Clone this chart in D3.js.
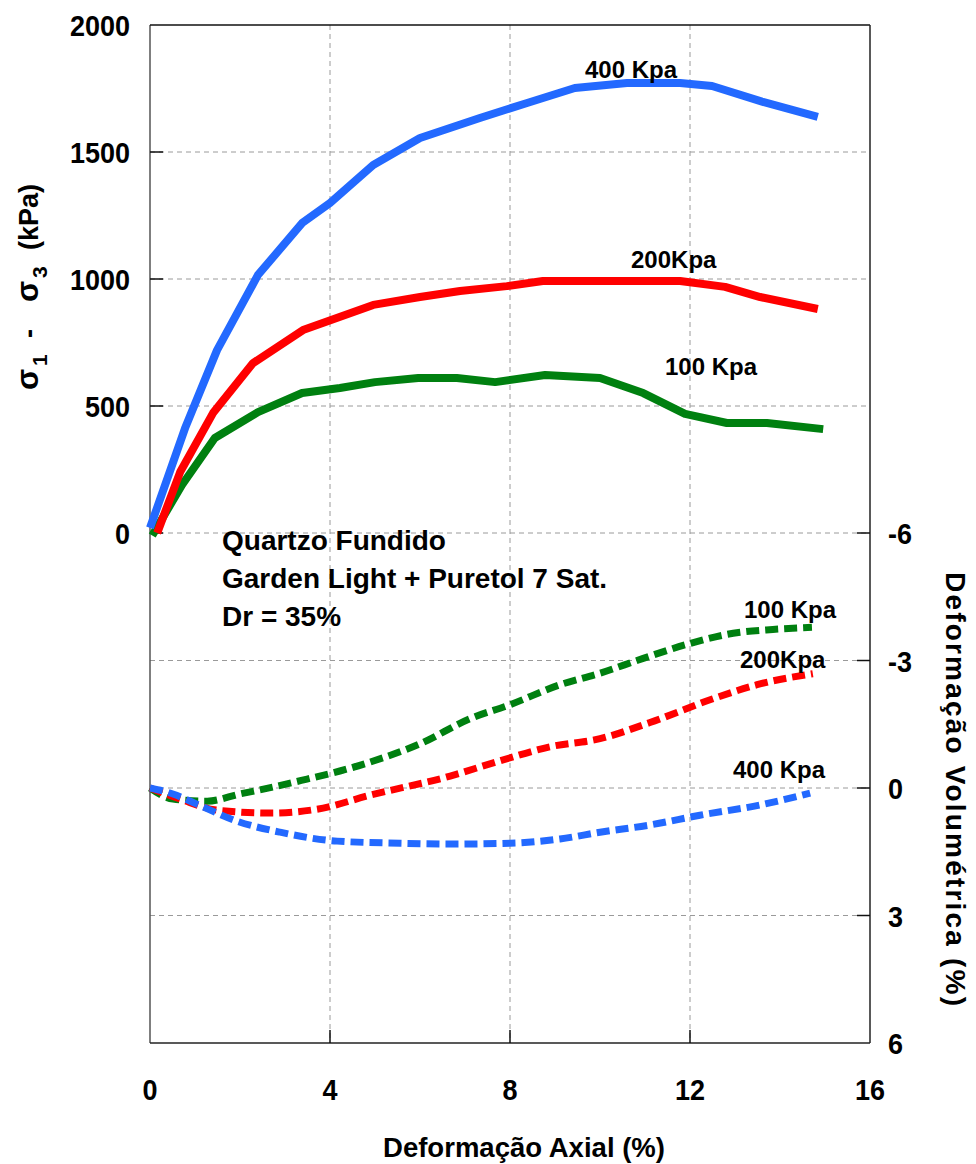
<!DOCTYPE html>
<html>
<head>
<meta charset="utf-8">
<script src="https://cdn.jsdelivr.net/npm/d3@7"></script>
<style>
  html, body { margin: 0; padding: 0; background: #fff; }
  svg { display: block; font-family: "Liberation Sans", Arial, sans-serif; font-weight: bold; }
</style>
</head>
<body>
<svg id="chart" width="976" height="1164"></svg>
<script>
// Axial strain (%) vs deviator stress (kPa)
const stress400 = [[0,20],[0.78,413],[1.49,720],[2.4,1016],[3.38,1220],[4.0,1299],[4.96,1449],[6.0,1555],[7.33,1634],[8.38,1693],[9.44,1752],[10.6,1772],[11.78,1772],[12.49,1760],[13.62,1697],[14.84,1638]];
const stress200 = [[0.16,0],[0.67,240],[1.4,472],[2.29,669],[3.4,799],[4.96,898],[6.0,929],[6.89,953],[7.93,972],[8.73,992],[11.78,992],[12.78,969],[13.56,929],[14.84,882]];
const stress100 = [[0.05,-10],[0.71,189],[1.44,374],[2.4,476],[3.38,551],[4.22,571],[5.0,594],[5.96,610],[6.82,610],[7.67,594],[8.78,622],[10.0,610],[10.96,551],[11.89,469],[12.82,433],[13.71,433],[14.96,409]];

// Axial strain (%) vs volumetric strain (%)
const vol100 = [[0,0],[0.51,0.26],[1.27,0.31],[2.0,0.14],[2.73,-0.02],[3.49,-0.21],[4.22,-0.4],[4.89,-0.61],[6.0,-1.04],[7.11,-1.63],[8.0,-1.96],[9.11,-2.43],[10.0,-2.7],[10.96,-3.05],[12.0,-3.4],[12.96,-3.64],[13.84,-3.73],[14.71,-3.78]];
const vol200 = [[0,0],[0.67,0.26],[1.49,0.52],[2.67,0.59],[3.71,0.5],[4.89,0.17],[6.67,-0.28],[7.78,-0.64],[8.89,-0.97],[10.0,-1.16],[11.11,-1.54],[12.51,-2.1],[13.49,-2.43],[14.73,-2.69]];
const vol400 = [[0,0],[0.51,0.14],[1.04,0.38],[1.93,0.78],[2.89,1.04],[4.16,1.25],[5.56,1.3],[6.67,1.32],[8.0,1.3],[9.11,1.2],[10.0,1.04],[11.11,0.87],[12.22,0.64],[13.56,0.4],[14.67,0.12]];

const xTicks = [0, 4, 8, 12, 16];
const stressTicks = [0, 500, 1000, 1500, 2000];
const volTicks = [-6, -3, 0, 3, 6];

const svg = d3.select("#chart");
const pLeft = 150, pRight = 870, pTop = 25, pBottom = 1043, pMid = 533;

const x = d3.scaleLinear().domain([0, 16]).range([pLeft, pRight]);
const yS = d3.scaleLinear().domain([0, 2000]).range([pMid, pTop]);
const yV = d3.scaleLinear().domain([-6, 6]).range([pMid, pBottom]);

const colors = { c100: "#008010", c200: "#ff0000", c400: "#2369ff" };

// grid
const grid = svg.append("g").attr("stroke", "#9a9a9a").attr("stroke-width", 1).attr("stroke-dasharray", "5,4");
[4, 8, 12].forEach(v => grid.append("line").attr("x1", x(v)).attr("x2", x(v)).attr("y1", pTop).attr("y2", pBottom));
[500, 1000, 1500, 0].forEach(v => grid.append("line").attr("x1", pLeft).attr("x2", pRight).attr("y1", yS(v)).attr("y2", yS(v)));
[-3, 0, 3].forEach(v => grid.append("line").attr("x1", pLeft).attr("x2", pRight).attr("y1", yV(v)).attr("y2", yV(v)));

// frame
svg.append("line").attr("x1", pLeft).attr("x2", pLeft).attr("y1", pTop).attr("y2", pBottom).attr("stroke", "#555").attr("stroke-width", 1.5);
svg.append("line").attr("x1", pLeft).attr("x2", pRight).attr("y1", pTop).attr("y2", pTop).attr("stroke", "#111").attr("stroke-width", 1.5);
svg.append("line").attr("x1", pRight).attr("x2", pRight).attr("y1", pTop).attr("y2", pBottom).attr("stroke", "#222").attr("stroke-width", 1.5);
svg.append("line").attr("x1", pLeft).attr("x2", pRight).attr("y1", pBottom).attr("y2", pBottom).attr("stroke", "#222").attr("stroke-width", 1.5);

// inner tick marks
const tk = svg.append("g").attr("stroke", "#111").attr("stroke-width", 1.5);
[0, 500, 1000, 1500].forEach(v => tk.append("line").attr("x1", pLeft).attr("x2", pLeft + 13).attr("y1", yS(v)).attr("y2", yS(v)));
[-6, -3, 0, 3].forEach(v => tk.append("line").attr("x1", pRight - 13).attr("x2", pRight).attr("y1", yV(v)).attr("y2", yV(v)));
[4, 8, 12].forEach(v => tk.append("line").attr("x1", x(v)).attr("x2", x(v)).attr("y1", pBottom).attr("y2", pBottom - 13));

// tick labels (slightly condensed digits)
const lab = svg.append("g").attr("font-size", 30).attr("fill", "#000");
const tickText = (px, py, anchor, t) => lab.append("text")
  .attr("transform", `translate(${px},${py}) scale(0.9,1)`).attr("text-anchor", anchor).text(t);
stressTicks.forEach(v => tickText(130, yS(v) + 11, "end", v));
volTicks.forEach(v => tickText(888, yV(v) + 11, "start", v));
xTicks.forEach(v => tickText(x(v), 1100, "middle", v));

// axis titles
svg.append("text").attr("x", 524).attr("y", 1157).attr("text-anchor", "middle").attr("font-size", 27)
  .attr("textLength", 282).attr("lengthAdjust", "spacingAndGlyphs").text("Deformação Axial (%)");
svg.append("text").attr("transform", "translate(946,789) rotate(90)").attr("text-anchor", "middle").attr("font-size", 28)
  .attr("textLength", 434).attr("lengthAdjust", "spacing").text("Deformação Volumétrica (%)");

const yt = svg.append("text").attr("transform", "translate(38,390) rotate(-90)").attr("font-size", 27);
yt.append("tspan").attr("x", 0).attr("font-size", 31).text("σ");
yt.append("tspan").attr("x", 24).attr("dy", 9).attr("font-size", 21).text("1");
yt.append("tspan").attr("x", 52).attr("dy", -9).text("-");
yt.append("tspan").attr("x", 88).attr("font-size", 31).text("σ");
yt.append("tspan").attr("x", 112).attr("dy", 9).attr("font-size", 21).text("3");
yt.append("tspan").attr("x", 140).attr("dy", -9).text("(kPa)");

// curves
const plot = svg.append("g").attr("fill", "none");
[[stress100, colors.c100], [stress200, colors.c200], [stress400, colors.c400]].forEach(([data, c]) => {
  plot.append("path").attr("d", d3.line().x(d => x(d[0])).y(d => yS(d[1]))(data))
    .attr("stroke", c).attr("stroke-width", 8).attr("stroke-linejoin", "round").attr("stroke-linecap", "butt");
});
[[vol100, colors.c100], [vol200, colors.c200], [vol400, colors.c400]].forEach(([data, c]) => {
  plot.append("path").attr("d", d3.line().x(d => x(d[0])).y(d => yV(d[1])).curve(d3.curveMonotoneX)(data))
    .attr("stroke", c).attr("stroke-width", 7).attr("stroke-dasharray", "13,6").attr("stroke-linecap", "butt");
});

// curve labels
const cl = svg.append("g").attr("font-size", 24).attr("fill", "#000");
cl.append("text").attr("x", 585).attr("y", 78).text("400 Kpa");
cl.append("text").attr("x", 631).attr("y", 268).text("200Kpa");
cl.append("text").attr("x", 665).attr("y", 375).text("100 Kpa");
cl.append("text").attr("x", 744).attr("y", 618).text("100 Kpa");
cl.append("text").attr("x", 740).attr("y", 668).text("200Kpa");
cl.append("text").attr("x", 733).attr("y", 778).text("400 Kpa");

// sample description
const note = svg.append("g").attr("font-size", 28).attr("fill", "#000");
["Quartzo Fundido", "Garden Light + Puretol 7 Sat.", "Dr = 35%"].forEach((t, i) =>
  note.append("text").attr("x", 222).attr("y", 550 + i * 38).text(t));
</script>
</body>
</html>
